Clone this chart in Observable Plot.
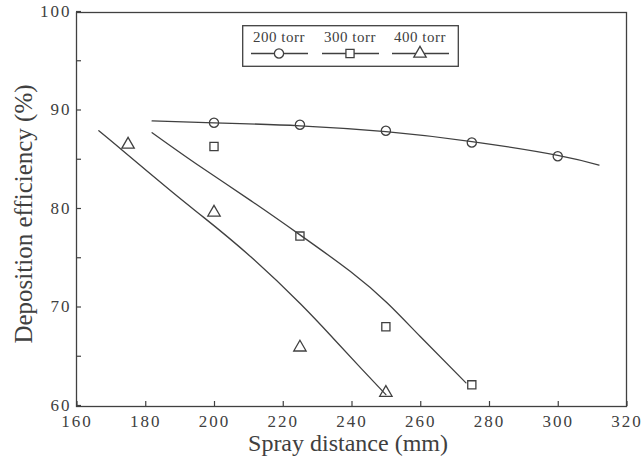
<!DOCTYPE html>
<html><head><meta charset="utf-8">
<script src="https://cdn.jsdelivr.net/npm/d3@7"></script>
<script src="https://cdn.jsdelivr.net/npm/@observablehq/plot@0.6"></script>
<style>
body{margin:0;background:#fff;}
#wrap{position:relative;width:642px;height:460px;}
#legend{position:absolute;left:242px;top:25px;}
g[aria-label="x-axis tick label"] text, g[aria-label="y-axis tick label"] text{font-size:17px;letter-spacing:2px;}
</style></head><body><div id="wrap"></div>
<script>
// measured points
const x200 = [200, 225, 250, 275, 300];
const y200 = [88.8, 88.6, 88.0, 86.8, 85.4];
const x300 = [200, 225, 250, 275];
const y300 = [86.4, 77.3, 68.1, 62.2];
const x400 = [175, 200, 225, 250];
const y400 = [86.6, 79.7, 66.0, 61.4];
// fitted curves
const fx200 = [182, 200, 225, 250, 275, 300, 312];
const fy200 = [89.0, 88.8, 88.5, 87.9, 86.9, 85.5, 84.5];
const fx300 = [182, 195, 210.7, 224.7, 239.7, 250.4, 260, 273.3];
const fy300 = [87.8, 84.6, 80.9, 77.5, 73.7, 70.5, 67.1, 62.4];
const fx400 = [166.5, 173.4, 187.4, 197, 210.7, 225.2, 235, 243, 250];
const fy400 = [88.0, 86.0, 81.9, 79.2, 75.2, 70.4, 66.8, 63.8, 61.2];
const seriesNames = ["200 torr", "300 torr", "400 torr"];
const seriesSymbols = ["circle", "square", "triangle"];
const xTicks = [160, 180, 200, 220, 240, 260, 280, 300, 320];
const yTicks = [60, 65, 70, 75, 80, 85, 90, 95, 100];
const xTitle = "Spray distance (mm)";
const yTitle = "Deposition efficiency (%)";

const ink = "#404040";
const pts = [];
[[x200, y200], [x300, y300], [x400, y400]].forEach(([xs, ys], i) =>
  xs.forEach((x, j) => pts.push({x, y: ys[j], s: seriesSymbols[i], name: seriesNames[i]})));
const fits = [];
[[fx200, fy200], [fx300, fy300], [fx400, fy400]].forEach(([xs, ys], i) =>
  xs.forEach((x, j) => fits.push({x, y: ys[j], name: seriesNames[i]})));

const serif = "'Liberation Serif', 'Times New Roman', serif";
const chart = Plot.plot({
  width: 642, height: 460,
  marginLeft: 76, marginRight: 16, marginTop: 12, marginBottom: 54,
  style: {fontFamily: serif, fontSize: "17px", color: ink, background: "#fff"},
  x: {domain: [160, 320]},
  y: {domain: [60, 100]},
  symbol: {domain: seriesSymbols, range: seriesSymbols},
  marks: [
    Plot.frame({stroke: ink, strokeWidth: 1.3}),
    Plot.axisX({ticks: xTicks, tickSize: -5, tickPadding: 13, label: null, stroke: ink, strokeWidth: 1.2, fill: ink,
      dx: 0.5}),
    Plot.axisY({ticks: yTicks, tickSize: -5, tickPadding: 10, label: null, stroke: ink, strokeWidth: 1.2, fill: ink,
      dy: -1, tickFormat: d => d % 10 === 0 ? d : ""}),
    Plot.line(fits, {x: "x", y: "y", z: "name", curve: "natural", stroke: ink, strokeWidth: 1.3}),
    Plot.dot(pts, {x: "x", y: "y", symbol: "s", r: 4.6, stroke: ink, strokeWidth: 1.3, fill: "none"}),
    Plot.text([xTitle], {frameAnchor: "bottom", textAnchor: "middle", dx: -3.5, dy: 44, lineAnchor: "bottom",
      fontSize: 24, fill: ink}),
    Plot.text([yTitle], {frameAnchor: "left", textAnchor: "middle", dx: -45, dy: 4.5, rotate: -90,
      lineAnchor: "bottom", fontSize: 25, fill: ink})
  ]
});
document.getElementById("wrap").appendChild(chart);

// legend box
const lg = d3.select("#wrap").append("svg").attr("id", "legend")
  .attr("width", 217).attr("height", 42);
lg.append("rect").attr("x", 0.7).attr("y", 0.7).attr("width", 215.6).attr("height", 40.6)
  .attr("fill", "#fff").attr("stroke", ink).attr("stroke-width", 1.3);
const lx = [37, 108, 178];
seriesNames.forEach((name, i) => {
  const g = lg.append("g").attr("transform", `translate(${lx[i]},0)`);
  g.append("text").attr("x", 0).attr("y", 17).attr("text-anchor", "middle")
    .attr("font-family", serif).attr("font-size", 15).attr("fill", ink).style("letter-spacing", "0.5px").text(name);
  g.append("line").attr("x1", -28).attr("x2", 29).attr("y1", 28.5).attr("y2", 28.5)
    .attr("stroke", ink).attr("stroke-width", 1.3);
  const sym = d3.symbol(i === 0 ? d3.symbolCircle : i === 1 ? d3.symbolSquare : d3.symbolTriangle, Math.PI * 4.6 * 4.6);
  g.append("path").attr("d", sym()).attr("transform", "translate(0,28.5)")
    .attr("fill", "#fff").attr("stroke", ink).attr("stroke-width", 1.3);
});
</script></body></html>
